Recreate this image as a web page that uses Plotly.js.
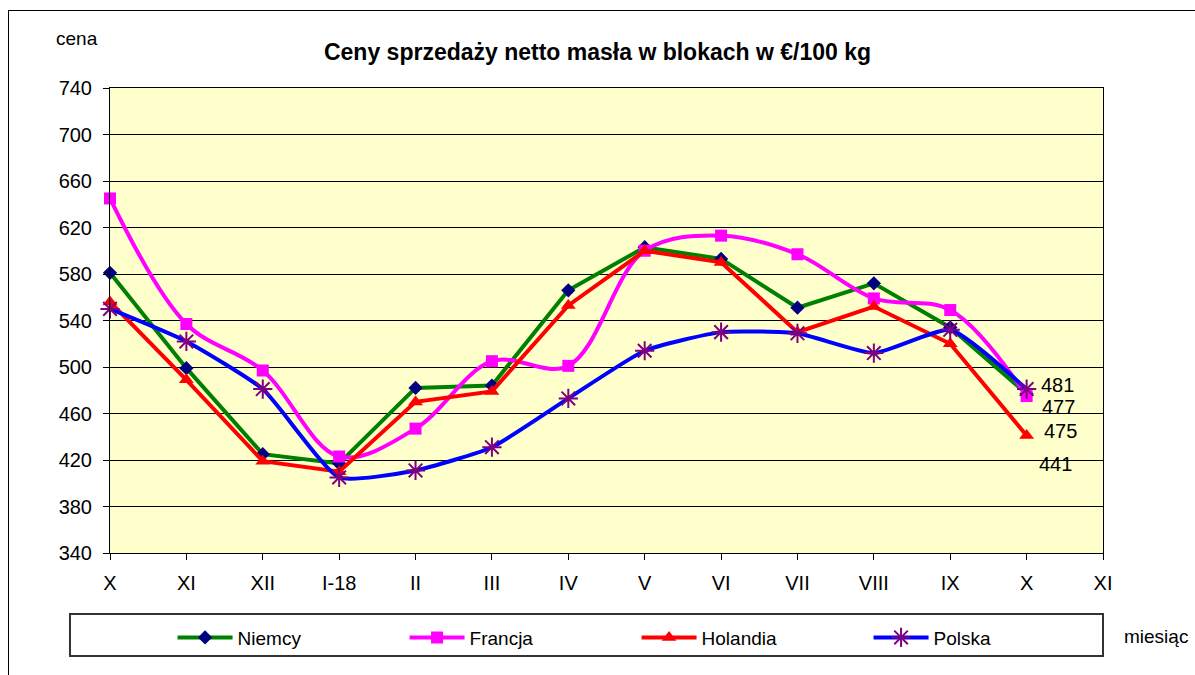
<!DOCTYPE html>
<html>
<head>
<meta charset="utf-8">
<script src="https://cdn.plot.ly/plotly-3.0.1.min.js"></script>
<style>
  html, body { margin: 0; padding: 0; background: #fff; overflow: hidden; }
  #chart { width: 1195px; height: 675px; position: absolute; left: 0; top: 0; }
  #frame { position: absolute; left: 8px; top: 10px; width: 1200px; height: 700px; border: 1px solid #000; pointer-events: none; }
</style>
</head>
<body>
<div id="chart"></div>
<div id="frame"></div>
<script>
const months = ["X", "XI", "XII", "I-18", "II", "III", "IV", "V", "VI", "VII", "VIII", "IX", "X", "XI"];
const niemcy   = [581, 499, 425, 417, 482, 484, 566, 603, 593, 551, 572, 534, 477];
const francja  = [645, 537, 497, 423, 447, 505, 501, 600, 613, 597, 559, 549, 475];
const holandia = [556, 489, 419, 410, 470, 479, 553, 600, 590, 530, 552, 520, 441];
const polska   = [550, 522, 481, 405, 411, 431, 473, 514, 530, 529, 512, 532, 481];
const yTicks = [340, 380, 420, 460, 500, 540, 580, 620, 660, 700, 740];

const idx = arr => arr.map((_, i) => i);
const font = "Liberation Sans, Arial, sans-serif";

const traces = [
  { name: "Niemcy", x: idx(niemcy), y: niemcy, mode: "lines+markers", cliponaxis: false,
    line: { color: "#008000", width: 4 },
    marker: { symbol: "diamond", color: "#000080", size: 11 } },
  { name: "Francja", x: idx(francja), y: francja, mode: "lines+markers", cliponaxis: false,
    line: { color: "#FF00FF", width: 4, shape: "spline", smoothing: 1 },
    marker: { symbol: "square", color: "#FF00FF", size: 12 } },
  { name: "Holandia", x: idx(holandia), y: holandia, mode: "lines+markers", cliponaxis: false,
    line: { color: "#FF0000", width: 4 },
    marker: { symbol: "triangle-up", color: "#FF0000", size: 13 } },
  { name: "Polska", x: idx(polska), y: polska, mode: "lines+markers", cliponaxis: false,
    line: { color: "#0000FF", width: 4, shape: "spline", smoothing: 0.5 },
    marker: { symbol: "asterisk-open", color: "#800080", size: 16, line: { color: "#800080", width: 2 } } }
];

const last = niemcy.length - 1;
const labelShifts = [
  { v: polska[last],   dx: 31, dy: 4 },
  { v: niemcy[last],   dx: 32, dy: -13 },
  { v: francja[last],  dx: 34, dy: -35 },
  { v: holandia[last], dx: 29, dy: -28 }
];

const annotations = labelShifts.map(s => ({
  x: last, y: s.v, xref: "x", yref: "y", text: String(s.v), showarrow: false,
  xshift: s.dx, yshift: s.dy, font: { family: font, size: 20, color: "#000" }
}));
annotations.push({ xref: "paper", yref: "paper", x: -0.0332, y: 1.1075, text: "cena", showarrow: false,
  xanchor: "center", yanchor: "middle", font: { family: font, size: 19, color: "#000" } });
annotations.push({ xref: "paper", yref: "paper", x: 1.019, y: -0.1785, text: "miesiąc", showarrow: false,
  xanchor: "left", yanchor: "middle", font: { family: font, size: 19, color: "#000" } });

const layout = {
  width: 1195, height: 675,
  margin: { l: 110, r: 92, t: 88, b: 122 },
  paper_bgcolor: "rgba(0,0,0,0)",
  plot_bgcolor: "#FFFFCC",
  title: { text: "<b>Ceny sprzedaży netto masła w blokach w €/100 kg</b>",
    font: { family: font, size: 23, color: "#000" }, x: 0.5, xanchor: "center", y: 0.923, yanchor: "middle" },
  showlegend: true,
  legend: { orientation: "h", x: 0.063, y: -0.141, xanchor: "left", yanchor: "top",
    entrywidth: 162, entrywidthmode: "pixels", itemwidth: 55,
    font: { family: font, size: 19, color: "#000" }, bgcolor: "rgba(0,0,0,0)", borderwidth: 0 },
  xaxis: {
    range: [0, months.length - 1], tickvals: idx(months), ticktext: months,
    showgrid: false, zeroline: false, showline: true, linecolor: "#000", linewidth: 1, mirror: true,
    ticks: "outside", ticklen: 6, tickcolor: "#000", ticklabelstandoff: 6,
    tickfont: { family: font, size: 20, color: "#000" }, fixedrange: true
  },
  yaxis: {
    range: [340, 740], tickvals: yTicks,
    showgrid: true, gridcolor: "#000", gridwidth: 1, zeroline: false,
    showline: true, linecolor: "#000", linewidth: 1, mirror: true,
    ticks: "outside", ticklen: 6, tickcolor: "#000", ticklabelstandoff: 7,
    tickfont: { family: font, size: 20, color: "#000" }, fixedrange: true
  },
  shapes: [
    { type: "rect", xref: "paper", yref: "paper", x0: -0.0403, x1: 1.0, y0: -0.2215, y1: -0.1312,
      line: { color: "#333", width: 2 }, fillcolor: "rgba(0,0,0,0)" }
  ],
  annotations: annotations
};

Plotly.newPlot("chart", traces, layout, { displayModeBar: false, staticPlot: true });
</script>
</body>
</html>
